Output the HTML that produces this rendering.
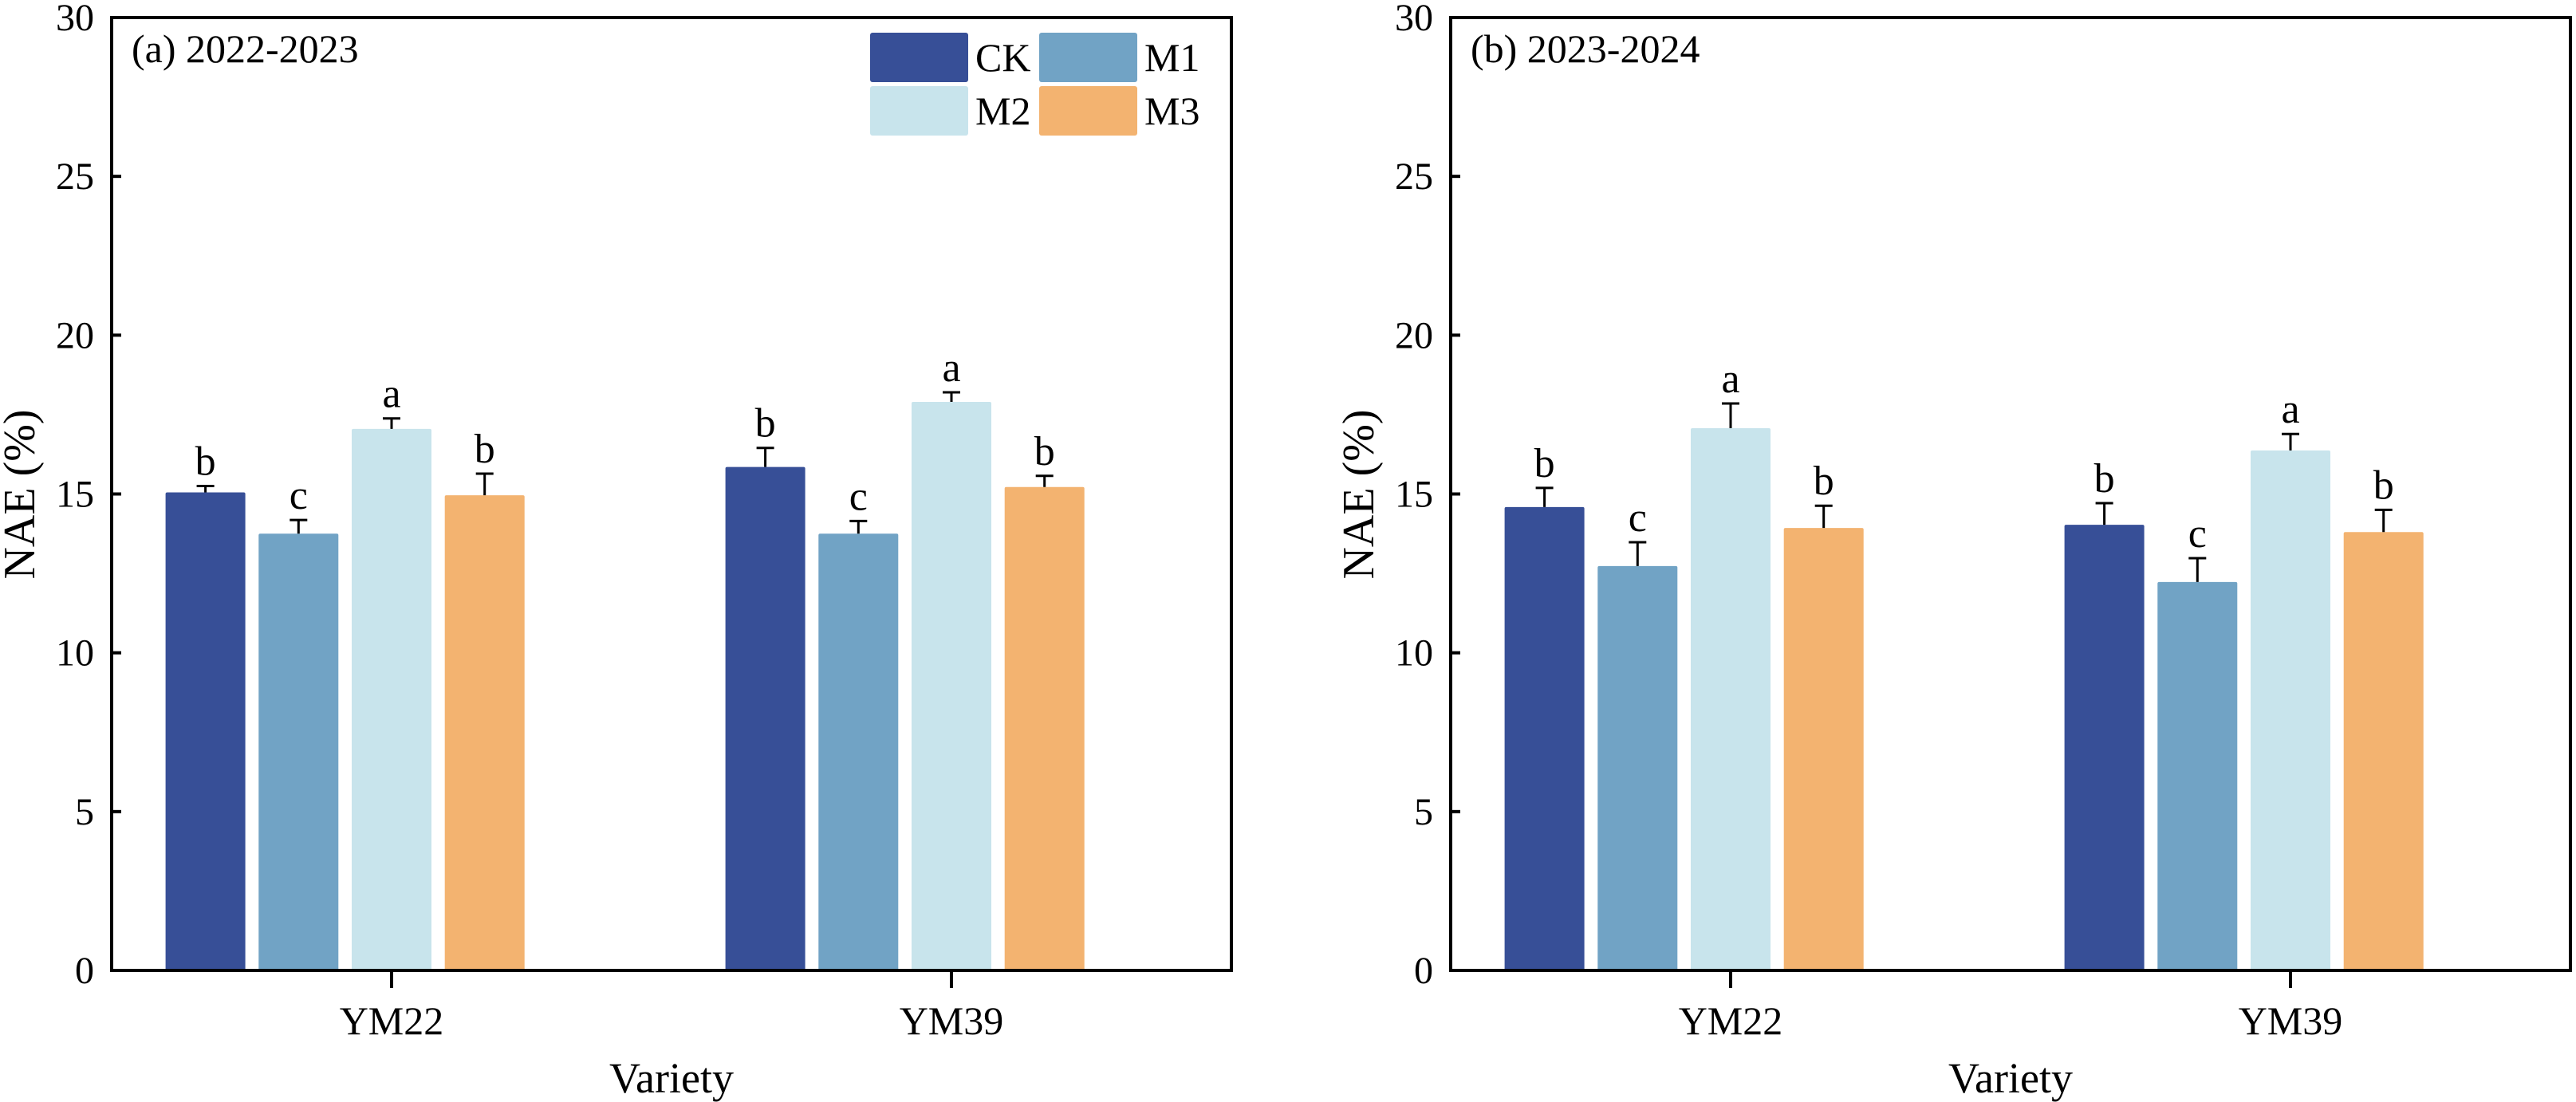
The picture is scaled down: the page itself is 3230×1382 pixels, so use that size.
<!DOCTYPE html>
<html><head><meta charset="utf-8"><style>
html,body{margin:0;padding:0;background:#fff;}
svg{display:block;}
svg text{font-family:"Liberation Serif","Times New Roman","DejaVu Serif",serif;}
</style></head><body>
<svg id="chart" width="3230" height="1382" viewBox="0 0 3230 1382" xmlns="http://www.w3.org/2000/svg" font-family="Liberation Serif, Times New Roman, serif"></svg>
<script>
const categories = ["YM22", "YM39"];
const seriesNames = ["CK", "M1", "M2", "M3"];
const yTicks = [0, 5, 10, 15, 20, 25, 30];
// Panel (a) 2022-2023
const aCK = [15.05, 15.85];
const aM1 = [13.75, 13.75];
const aM2 = [17.05, 17.9];
const aM3 = [14.96, 15.22];
const aErrCK = [0.2, 0.6];
const aErrM1 = [0.43, 0.4];
const aErrM2 = [0.33, 0.3];
const aErrM3 = [0.68, 0.35];
const aLetters = [["b","c","a","b"],["b","c","a","b"]];
// Panel (b) 2023-2024
const bCK = [14.59, 14.03];
const bM1 = [12.73, 12.23];
const bM2 = [17.07, 16.37];
const bM3 = [13.93, 13.8];
const bErrCK = [0.6, 0.68];
const bErrM1 = [0.75, 0.75];
const bErrM2 = [0.78, 0.52];
const bErrM3 = [0.7, 0.7];
const bLetters = [["b","c","a","b"],["b","c","a","b"]];

const colors = ["#374F97", "#71A3C5", "#C8E4EC", "#F3B370"];
const FONT = '"Liberation Serif", "Times New Roman", "DejaVu Serif", serif';
const NS = "http://www.w3.org/2000/svg";
const svg = document.getElementById("chart");
function mk(tag, attrs, parent) {
  const e = document.createElementNS(NS, tag);
  for (const k in attrs) e.setAttribute(k, attrs[k]);
  if (tag === "text") e.style.fontFamily = FONT;
  (parent || svg).appendChild(e);
  return e;
}

function panel(px, title, titleName, vals, errs, letters, showLegend, pid) {
  const L = px, R = px + 1404, T = 22, B = 1217;
  const g = mk("g", {});
  
  
  const y = v => B - (v / 30) * (B - T);
  const xc = i => L + (R - L) * (i * 2 + 1) / 4;
  const bw = 100, pitch = 116.7;
  for (let c = 0; c < categories.length; c++) {
    for (let s = 0; s < 4; s++) {
      const v = vals[s][c], e = errs[s][c];
      const cx = xc(c) + (s - 2) * pitch;
      const r = mk("rect", {x: cx - bw/2, y: y(v), width: bw, height: B - y(v), fill: colors[s], rx: 2}, g);
      
      
      const el = mk("path", {d: `M${cx} ${y(v)}V${y(v+e)}M${cx-11} ${y(v+e)}H${cx+11}`, stroke: "#000", "stroke-width": 3, fill: "none"}, g);
      
      
      const t = mk("text", {x: cx, y: y(v+e) - 14, "font-size": 52, "text-anchor": "middle"}, g);
      t.textContent = letters[c][s];
      
      
    }
  }
  const f = mk("rect", {x: L, y: T, width: R - L, height: B - T, fill: "none", stroke: "#000", "stroke-width": 4}, g);
  
  
  for (const tv of yTicks) {
    const tk = mk("line", {x1: L, x2: L + 12, y1: y(tv), y2: y(tv), stroke: "#000", "stroke-width": 4}, g);
    
    
    const tl = mk("text", {x: L - 22, y: y(tv) + 16, "font-size": 48, "text-anchor": "end"}, g);
    tl.textContent = tv;
    
    
  }
  for (let c = 0; c < categories.length; c++) {
    const tk = mk("line", {x1: xc(c), x2: xc(c), y1: B, y2: B + 22, stroke: "#000", "stroke-width": 4}, g);
    
    
    const tl = mk("text", {x: xc(c), y: 1297, "font-size": 50, "text-anchor": "middle"}, g);
    tl.textContent = categories[c];
    
    
  }
  const xt = mk("text", {x: (L + R) / 2, y: 1370, "font-size": 54, "text-anchor": "middle"}, g);
  xt.textContent = "Variety";
  
  
  const yt = mk("text", {x: 0, y: 0, "font-size": 56, "text-anchor": "middle", transform: `translate(${L - 97},620) rotate(-90)`}, g);
  yt.textContent = "NAE (%)";
  
  
  const pt = mk("text", {x: L + 25, y: 78, "font-size": 50}, g);
  pt.textContent = title;
  
  
  if (showLegend) {
    const lg = mk("g", {}, g);
    
    
    const pos = [[1091, 41], [1303, 41], [1091, 108], [1303, 108]];
    for (let s = 0; s < 4; s++) {
      const [lx, ly] = pos[s];
      const sw = mk("rect", {x: lx, y: ly, width: 123, height: 62, fill: colors[s], rx: 3}, lg);
      
      
      const lt = mk("text", {x: lx + 132, y: ly + 48, "font-size": 50}, lg);
      lt.textContent = seriesNames[s];
      
      
    }
  }
}
panel(140, "(a) 2022-2023", "panel-a-title", [aCK, aM1, aM2, aM3], [aErrCK, aErrM1, aErrM2, aErrM3], aLetters, true, "panel-a");
panel(1819, "(b) 2023-2024", "panel-b-title", [bCK, bM1, bM2, bM3], [bErrCK, bErrM1, bErrM2, bErrM3], bLetters, false, "panel-b");
</script>
</body></html>
